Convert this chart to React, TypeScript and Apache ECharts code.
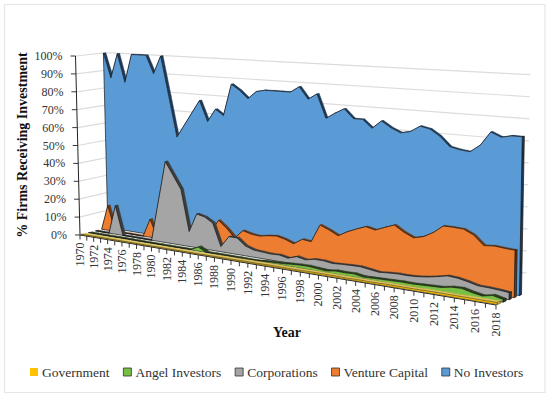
import React, { useEffect, useRef } from "react";
import * as echarts from "echarts";

const years = [1970,1971,1972,1973,1974,1975,1976,1977,1978,1979,1980,1981,1982,1983,1984,1985,1986,1987,1988,1989,1990,1991,1992,1993,1994,1995,1996,1997,1998,1999,2000,2001,2002,2003,2004,2005,2006,2007,2008,2009,2010,2011,2012,2013,2014,2015,2016,2017,2018];
const noInvestors = [100,86,100,84,100,100,100,90,100,78,56,63,70,77,66,73,70,87,84,80,84,85,85,85,85,88,82,85,73,76,78.5,74,74,70,74,71,69,70,73,72,69,64.5,63.5,63,66.5,73,71,72,72];
const ventureCapital = [0,14,0,0,0,0,0,10,0,0,0,0,0,8,10,8,15,11.5,7,11.5,10.4,10,10.9,11.4,10.4,8.8,11.7,11.2,20.2,18.4,16.2,18.8,20.8,22.6,21.6,23.5,25.3,22.5,20.5,21.7,24.3,28,28,27.8,25.7,21.5,22,21.6,21.4];
const corporations = [0,0,0,16,0,0,0,0,0,22,44,37,30,8,18,17,14.5,2.7,8.6,8.6,5.1,3.7,3.4,3.1,3.3,2.4,3.9,3,4,4,3.4,3.7,3.9,4,3.4,2.8,3.2,3.5,3.4,3.7,4.3,5.2,6.3,6,5.1,4,3.9,3.6,3.2];
const angelInvestors = [0,0,0,0,0,0,0,0,0,0,0,0,0,0,0,2.2,0,0,0,0,0,0,0,0.4,0.6,0.8,1.2,1.5,1.6,1.2,0.8,1.5,1.4,1.6,0.8,1,1.2,1.3,1.5,1.4,1.6,1.8,2,2.9,3.1,2,1.2,2.2,1.2];
const government = [0.3,0.3,0.3,0.3,0.3,0.3,0.3,0.3,0.3,0.3,0.3,0.3,0.3,0.3,0.3,0.3,0.3,0.3,0.4,0.4,0.4,0.5,0.5,0.5,0.6,0.6,0.6,0.6,0.6,0.7,0.7,0.7,0.7,0.6,0.7,0.7,0.7,0.8,0.8,0.8,0.8,0.9,0.9,0.9,0.9,0.9,0.9,0.9,0.9];
const valueTicks = [0,10,20,30,40,50,60,70,80,90,100];
const yearTicks = years.filter((y) => y % 2 === 0);

const W = 550;
const H = 397;
const SERIF = '"Liberation Serif", serif';

// Excel-style 3D floor: grid pixels -> page pixels
function project(px: number, py: number, z: number) {
  const t = (px / W) * 48;
  const v = (H - py) / H;
  const xf = 80 + 6.75 * t + 0.03993 * t * t;
  const u = (xf - 80) / 416;
  const lean = -4.5 + (8.5 * t) / 48;
  const x = xf + z * (31 - (5 * t) / 48) + v * lean;
  const floor = 235 + 70 * u - z * (8.3 + 2.2 * u);
  const height = 179 + 46 * u - 5 * z;
  return [x, floor - v * height];
}

function ribbonItem(values: number[], fill: string, dark: string, zFront: number, thick: number, edge: string) {
  return (params: any, api: any) => {
    if (params.dataIndex !== 0) return null;
    const top = (i: number, z: number) => {
      const c = api.coord([years[i], values[i]]);
      return project(c[0], c[1], z);
    };
    const base = (i: number, z: number) => {
      const c = api.coord([years[i], 0]);
      return project(c[0], c[1], z);
    };
    const n = years.length;
    const children: any[] = [];
    const line = { stroke: edge, lineWidth: 0.7, lineJoin: "round" };
    for (let i = 0; i < n - 1; i++) {
      children.push({
        type: "polygon",
        shape: { points: [top(i, zFront), top(i + 1, zFront), top(i + 1, zFront + thick), top(i, zFront + thick)] },
        style: { fill: dark, stroke: dark, lineWidth: 0.4 },
      });
    }
    children.push({
      type: "polygon",
      shape: { points: [top(n - 1, zFront), top(n - 1, zFront + thick), base(n - 1, zFront + thick), base(n - 1, zFront)] },
      style: { fill: dark, ...line },
    });
    const pts: number[][] = [base(0, zFront)];
    for (let i = 0; i < n; i++) pts.push(top(i, zFront));
    pts.push(base(n - 1, zFront));
    children.push({ type: "polygon", shape: { points: pts }, style: { fill, ...line } });
    return { type: "group", children };
  };
}

function frameItem(params: any, api: any) {
  if (params.dataIndex !== 0) return null;
  const P = (year: number, value: number, z: number) => {
    const c = api.coord([year, value]);
    return project(c[0], c[1], z);
  };
  const first = years[0];
  const last = years[years.length - 1];
  const children: any[] = [];
  const seg = (a: number[], b: number[], stroke: string, lineWidth: number) => ({
    type: "line",
    shape: { x1: a[0], y1: a[1], x2: b[0], y2: b[1] },
    style: { stroke, lineWidth },
  });
  valueTicks.forEach((v) => {
    if (v > 0) {
      children.push(seg(P(first, v, 0), P(first, v, 1), "#dcdcdc", 1.2));
      children.push(seg(P(first, v, 1), P(last + 0.4, v, 1), "#dcdcdc", 1.2));
    }
    const a = P(first, v, 0);
    children.push(seg([a[0] - 5, a[1]], a, "#222", 0.9));
    children.push({
      type: "text",
      x: a[0] - 13,
      y: a[1],
      style: { text: v + "%", fill: "#333", font: "12px " + SERIF, textAlign: "right", textVerticalAlign: "middle" },
    });
  });
  children.push(seg(P(first, 0, 0), P(first, 100, 0), "#222", 1));
  children.push(seg(P(first, 0, 0), P(last, 0, 0), "#222", 1));
  years.forEach((y) => {
    const a = P(y, 0, 0);
    children.push(seg(a, [a[0], a[1] + 4.5], "#222", 0.9));
  });
  yearTicks.forEach((y) => {
    const a = P(y, 0, 0);
    children.push({
      type: "text",
      x: a[0],
      y: a[1] + 7.5,
      rotation: Math.PI / 2,
      style: { text: String(y), fill: "#333", font: "12px " + SERIF, textAlign: "right", textVerticalAlign: "middle" },
    });
  });
  return { type: "group", children };
}

function pairs(values: number[]) {
  return years.map((y, i) => [y, values[i]]);
}

export default function App() {
  const ref = useRef<HTMLDivElement>(null);
  useEffect(() => {
    const chart = echarts.init(ref.current!, null, { renderer: "svg" });
    const s = (name: string, values: number[], fill: string, dark: string, z: number, th: number, edge = "#161616") => ({
      type: "custom",
      name,
      coordinateSystem: "cartesian2d",
      data: pairs(values),
      encode: { x: 0, y: 1 },
      itemStyle: { color: fill },
      silent: true,
      renderItem: ribbonItem(values, fill, dark, z, th, edge),
    });
    chart.setOption({
      animation: false,
      backgroundColor: "#fff",
      grid: { left: 0, top: 0, width: W, height: H },
      xAxis: { type: "value", min: 1970, max: 2018, show: false },
      yAxis: { type: "value", min: 0, max: 100, show: false },
      legend: {
        left: 25,
        top: 360,
        data: [
          { name: "Government", itemStyle: { borderWidth: 0 } },
          "Angel Investors",
          "Corporations",
          "Venture Capital",
          "No Investors",
        ],
        icon: "rect",
        itemWidth: 8,
        itemHeight: 8,
        itemGap: 13.5,
        itemStyle: { borderColor: "#333", borderWidth: 0.8 },
        textStyle: { fontFamily: SERIF, fontSize: 13.5, color: "#333", padding: [0, 0, 0, -1] },
      },
      graphic: [
        { type: "rect", shape: { x: 4.5, y: 4.5, width: 540.5, height: 388 }, style: { fill: "none", stroke: "#e6e6e6", lineWidth: 1.2 } },
        { type: "text", x: 22, y: 145, rotation: Math.PI / 2, style: { text: "% Firms Receiving Investment", font: "bold 14px " + SERIF, fill: "#111", textAlign: "center", textVerticalAlign: "middle" } },
        { type: "text", x: 287, y: 332, style: { text: "Year", font: "bold 14px " + SERIF, fill: "#111", textAlign: "center", textVerticalAlign: "middle" } },
      ],
      series: [
        { type: "custom", name: "frame", coordinateSystem: "cartesian2d", data: [[years[0], 0]], encode: { x: 0, y: 1 }, silent: true, renderItem: frameItem },
        s("No Investors", noInvestors, "#5b9bd5", "#1d3a5c", 0.9, 0.08),
        s("Venture Capital", ventureCapital, "#ed7d31", "#6b3a16", 0.7, 0.08),
        s("Corporations", corporations, "#a5a5a5", "#3d3d3d", 0.5, 0.09),
        s("Angel Investors", angelInvestors, "#78c043", "#2b3f1e", 0.27, 0.12),
        s("Government", government, "#ffc000", "#dcc25a", 0.04, 0.14, "#55491c"),
      ],
    });
    return () => chart.dispose();
  }, []);
  return <div ref={ref} style={{ position: "fixed", left: 0, top: 0, width: W, height: H }} />;
}
